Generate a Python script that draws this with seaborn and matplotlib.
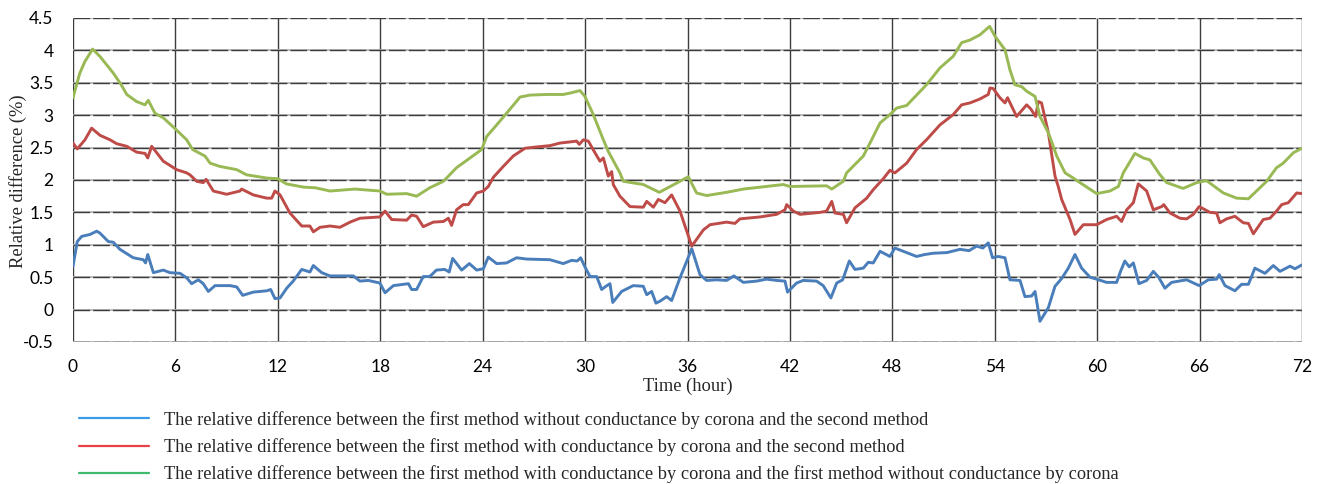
import numpy as np
import pandas as pd
import matplotlib
matplotlib.use("Agg")
import matplotlib.pyplot as plt
from matplotlib.lines import Line2D
import seaborn as sns

# ---- data: time (hour) and relative difference (%) for each series ----
t_blue = [0.0, 0.25, 0.51, 1.0, 1.39, 1.58, 2.07, 2.36, 2.75, 3.53, 4.12, 4.25, 4.38, 4.71,
          5.29, 5.68, 6.27, 6.66, 6.95, 7.34, 7.63, 7.93, 8.32, 9.2, 9.59, 9.94, 10.56, 11.35,
          11.58, 11.83, 12.13, 12.52, 12.9, 13.4, 13.88, 14.08, 14.57, 15.06, 15.64, 16.42,
          16.81, 17.3, 17.98, 18.28, 18.77, 19.65, 19.84, 20.13, 20.52, 20.9, 21.29, 21.78,
          22.04, 22.24, 22.77, 23.22, 23.65, 24.04, 24.33, 24.82, 25.4, 25.99, 26.58, 27.94,
          28.72, 29.21, 29.54, 29.74, 29.99, 30.29, 30.68, 30.97, 31.22, 31.46, 31.62, 32.14,
          32.82, 33.41, 33.61, 33.9, 34.15, 34.39, 34.78, 35.07, 35.56, 36.25, 36.73, 37.12,
          37.71, 38.29, 38.72, 39.27, 40.05, 40.64, 41.22, 41.71, 41.86, 42.39, 42.78, 43.56,
          43.95, 44.4, 44.74, 45.09, 45.48, 45.81, 46.3, 46.59, 46.88, 47.28, 47.86, 48.15,
          48.84, 49.42, 49.9, 50.4, 51.2, 51.96, 52.5, 52.94, 53.3, 53.62, 53.87, 54.2, 54.6,
          54.89, 55.48, 55.77,
          56.16, 56.36, 56.65, 57.14, 57.53, 57.92, 58.31, 58.7, 59.09, 59.58, 59.97, 60.55,
          61.14, 61.37, 61.62, 61.88, 62.12, 62.45, 62.9, 63.29, 63.6, 63.97, 64.36, 65.24,
          65.98, 66.51, 67.0, 67.15, 67.49, 68.07, 68.46, 68.86, 69.24, 69.83, 70.32, 70.71,
          71.3, 71.59, 72.0]
v_blue = [0.67, 1.05, 1.13, 1.16, 1.21, 1.18, 1.05, 1.04, 0.93, 0.80, 0.77, 0.72, 0.85, 0.57,
          0.61, 0.57, 0.56, 0.49, 0.40, 0.46, 0.40, 0.28, 0.37, 0.37, 0.35, 0.22, 0.27, 0.29,
          0.31, 0.17, 0.18, 0.33, 0.44, 0.62, 0.58, 0.68, 0.57, 0.52, 0.52, 0.52,
          0.44, 0.45, 0.41, 0.26, 0.37, 0.40, 0.31, 0.31, 0.51, 0.51, 0.61, 0.62,
          0.58, 0.79, 0.61, 0.71, 0.61, 0.63, 0.81, 0.71, 0.72, 0.80, 0.78, 0.77,
          0.71, 0.76, 0.75, 0.80, 0.66, 0.51, 0.51, 0.31, 0.36, 0.40, 0.11, 0.28,
          0.37, 0.36, 0.23, 0.28, 0.10, 0.13, 0.20, 0.14, 0.49, 0.94, 0.54, 0.45,
          0.46, 0.45, 0.52, 0.42, 0.44, 0.47, 0.45, 0.44, 0.27, 0.41, 0.45, 0.44,
          0.37, 0.18, 0.41, 0.46, 0.75, 0.62, 0.64, 0.73, 0.72, 0.90, 0.82, 0.95,
          0.88, 0.82, 0.85, 0.87, 0.88, 0.93, 0.91, 0.98, 0.95, 1.03, 0.80, 0.82, 0.80,
          0.46, 0.45, 0.20,
          0.21, 0.28, -0.18, 0.03, 0.36, 0.48, 0.64, 0.85, 0.64, 0.50, 0.47, 0.42,
          0.42, 0.59, 0.75, 0.66, 0.72, 0.40, 0.45, 0.59, 0.50, 0.33, 0.42, 0.46,
          0.37, 0.46, 0.47, 0.54, 0.37, 0.29, 0.39, 0.39, 0.64, 0.56, 0.68, 0.59,
          0.67, 0.63, 0.69]

t_red = [0.0, 0.25, 0.7, 1.09, 1.58, 2.17, 2.56, 3.15, 3.73, 4.22, 4.38, 4.61, 5.29, 6.07,
         6.66, 6.85, 7.25, 7.63, 7.8, 8.22, 9.0, 9.78, 9.88, 10.56, 11.35, 11.64, 11.83, 12.13,
         12.71, 13.4, 13.88, 14.08, 14.47, 15.06, 15.64, 16.23, 16.81, 17.98, 18.28, 18.67,
         19.55, 19.84, 20.13, 20.52, 21.11, 21.7, 21.99, 22.18, 22.47, 22.86, 23.16, 23.65,
         24.04, 24.33, 24.62, 25.21, 25.79, 26.48, 27.16, 27.94, 28.53, 29.51, 29.66, 29.9,
         30.19, 30.58, 30.87, 31.07, 31.36, 31.56, 31.65, 32.04, 32.63, 33.41, 33.61, 34.0,
         34.29, 34.68, 35.07, 35.56, 36.25, 36.93, 37.32, 38.29, 38.78, 39.07, 40.25, 41.22,
         41.71, 41.81, 42.2, 42.59, 43.76, 44.15, 44.45, 44.64, 45.13, 45.32, 45.81, 46.5,
         46.88, 47.47, 47.86, 48.15, 48.84, 49.42, 50.0, 50.79, 51.57, 52.06, 52.55, 53.13,
         53.62, 53.72, 53.91, 54.3, 54.6, 54.75, 55.28, 55.87, 56.1, 56.4, 56.55, 56.74,
         57.14, 57.53, 57.72, 57.92, 58.41, 58.7, 59.19, 59.97, 60.55, 61.14, 61.43, 61.73,
         62.12, 62.41, 62.9, 63.29, 63.78, 63.9, 64.27, 64.85, 65.24, 65.63, 65.98, 66.61,
         67.0, 67.19, 67.58, 68.07, 68.56, 68.86, 69.15, 69.73, 70.12, 70.51, 70.81, 71.2,
         71.69, 72.0]
v_red = [2.57, 2.48, 2.62, 2.80, 2.69, 2.62, 2.56, 2.52, 2.43, 2.41, 2.34, 2.52, 2.29, 2.16,
         2.11, 2.08, 1.98, 1.96, 2.01, 1.83, 1.78, 1.83, 1.86, 1.77, 1.72, 1.72, 1.83, 1.77,
         1.49, 1.29, 1.29, 1.20, 1.27, 1.29, 1.27, 1.35, 1.41, 1.43, 1.52, 1.39,
         1.38, 1.46, 1.44, 1.28, 1.35, 1.36, 1.41, 1.30, 1.54, 1.62, 1.62, 1.80,
         1.83, 1.90, 2.04, 2.21, 2.37, 2.49, 2.51, 2.53, 2.57, 2.60, 2.55, 2.62,
         2.60, 2.42, 2.29, 2.34, 2.06, 2.13, 1.93, 1.75, 1.59, 1.58, 1.67, 1.58,
         1.70, 1.65, 1.77, 1.52, 0.98, 1.23, 1.31, 1.35, 1.33, 1.40, 1.43, 1.47,
         1.54, 1.62, 1.52, 1.47, 1.50, 1.52, 1.67, 1.49, 1.47, 1.34, 1.57, 1.72,
         1.85, 2.02, 2.15, 2.11, 2.26, 2.47, 2.62, 2.85, 3.01, 3.16, 3.19, 3.25,
         3.32, 3.42, 3.41, 3.27, 3.19, 3.27, 2.98, 3.16, 3.10, 2.98, 3.21, 3.19,
         2.73, 2.06, 1.90, 1.70, 1.39, 1.16, 1.31, 1.31, 1.39, 1.44, 1.36, 1.54,
         1.65, 1.94, 1.83, 1.54, 1.59, 1.62, 1.49, 1.41, 1.40, 1.47, 1.59, 1.50,
         1.49, 1.34, 1.40, 1.44, 1.34, 1.33, 1.17, 1.39, 1.41, 1.52, 1.62, 1.65,
         1.80, 1.79]

t_green = [0.0, 0.4, 0.7, 1.15, 1.6, 2.36, 2.8, 3.15, 3.73, 4.22, 4.41, 4.8, 5.29, 6.03,
           6.66, 7.01, 7.73, 8.03, 8.6, 9.59, 10.17, 11.35, 12.0, 12.5, 13.5, 14.2, 15.06,
           16.5, 17.98, 18.38, 19.55, 20.13, 20.9, 21.7, 22.47, 23.26, 23.94, 24.23, 24.82,
           25.4, 26.19, 26.77, 27.75, 28.72, 29.1, 29.7, 29.99, 30.48, 31.07, 31.36, 32.04,
           32.24, 33.41, 34.35, 35.56, 36.05, 36.53, 37.12, 38.29, 39.27, 41.61, 42.0, 44.15,
           44.45, 45.13, 45.32, 46.3, 46.69, 47.28, 47.86, 48.25, 48.84, 50.0, 50.79, 51.57,
           52.06, 52.55, 53.13, 53.7, 54.01, 54.6, 54.89, 55.18, 55.58, 55.87, 56.36, 56.65,
           57.14, 57.63, 58.12, 58.6, 58.99, 59.97, 60.75, 61.24, 61.53, 62.21, 62.7, 63.09,
           63.68, 64.07, 65.04, 65.83, 66.41, 67.39, 68.17, 68.86, 69.93, 70.51, 70.9, 71.49,
           72.0]
v_green = [3.27, 3.65, 3.83, 4.02, 3.90, 3.65, 3.48, 3.32, 3.21, 3.16, 3.23, 3.03, 2.96, 2.78,
           2.62, 2.47, 2.37, 2.26, 2.21, 2.16, 2.08, 2.03, 2.02, 1.94, 1.89, 1.88, 1.83,
           1.86, 1.83, 1.78, 1.79, 1.75, 1.88, 1.98, 2.19, 2.34, 2.47, 2.67, 2.85,
           3.03, 3.28, 3.31, 3.32, 3.32, 3.34, 3.38, 3.29, 3.01, 2.62, 2.44, 2.11,
           1.98, 1.93, 1.81, 1.98, 2.05, 1.80, 1.76, 1.81, 1.86, 1.93, 1.90, 1.91,
           1.86, 1.98, 2.11, 2.37, 2.57, 2.88, 3.01, 3.11, 3.15, 3.47, 3.73, 3.91,
           4.12, 4.16, 4.24, 4.37, 4.22, 4.01, 3.70, 3.47, 3.44, 3.37, 3.29, 2.98,
           2.73, 2.37, 2.11, 2.03, 1.96, 1.79, 1.83, 1.90, 2.11, 2.41, 2.34, 2.31,
           2.08, 1.96, 1.87, 1.96, 1.99, 1.80, 1.72, 1.71, 1.98, 2.19, 2.26, 2.42,
           2.49]

labels = [
    "The relative difference between the first method without conductance by corona and the second method",
    "The relative difference between the first method with conductance by corona and the second method",
    "The relative difference between the first method with conductance by corona and the first method without conductance by corona",
]
x_ticks = [0, 6, 12, 18, 24, 30, 36, 42, 48, 54, 60, 66, 72]
y_ticks = [-0.5, 0, 0.5, 1, 1.5, 2, 2.5, 3, 3.5, 4, 4.5]
y_tick_labels = ["-0.5", "0", "0.5", "1", "1.5", "2", "2.5", "3", "3.5", "4", "4.5"]

line_colors = ["#4a7ebb", "#be4b48", "#98b954"]
legend_colors = ["#3d9ae8", "#e8404a", "#3dba6c"]

df = pd.concat([
    pd.DataFrame({"t": t_blue, "v": v_blue, "s": labels[0]}),
    pd.DataFrame({"t": t_red, "v": v_red, "s": labels[1]}),
    pd.DataFrame({"t": t_green, "v": v_green, "s": labels[2]}),
], ignore_index=True)

sns.set_style("white")
plt.rcParams["font.family"] = ["Liberation Serif", "DejaVu Serif"]

fig = plt.figure(figsize=(13.2, 4.84), dpi=100)
ax = fig.add_axes([73 / 1320, 1 - 342 / 484, (1302 - 73) / 1320, (342 - 18) / 484])

# grid: dark vertical lines, textured dark/light horizontal lines
ax.set_axisbelow(True)
ax.grid(axis="x", color="#3c3c3c", lw=1.0)
ax.grid(axis="y", color="#b8b8b8", lw=1.3)
ax.hlines(y_ticks, x_ticks[0], x_ticks[-1], colors="#3c3c3c", lw=1.0,
          linestyles=[(0, (12, 2.2))], zorder=0.6)

sns.lineplot(data=df, x="t", y="v", hue="s", palette=line_colors, sort=False,
             estimator=None, lw=2.1, legend=False, ax=ax, zorder=3)

ax.set_xlim(x_ticks[0], x_ticks[-1])
ax.set_ylim(y_ticks[0], y_ticks[-1])
ax.set_xticks(x_ticks)
ax.set_yticks(y_ticks)
ax.set_yticklabels(y_tick_labels)
for spine in ax.spines.values():
    spine.set_visible(False)
ax.tick_params(axis="both", length=0, labelsize=12.5, colors="#000000")
ax.tick_params(axis="y", pad=14)
ax.tick_params(axis="x", pad=12)
for lab in ax.get_xticklabels() + ax.get_yticklabels():
    lab.set_family(["Lato", "DejaVu Sans"])

ax.set_xlabel("Time (hour)", fontsize=13.3, labelpad=2)
ax.set_ylabel("Relative difference (%)", fontsize=13.3, va="center")
ax.yaxis.set_label_coords(-0.0445, 0.495)

handles = [Line2D([], [], color=c, lw=1.6) for c in legend_colors]
fig.legend(handles, labels, loc="upper left",
           bbox_to_anchor=(79 / 1320, 1 - 411 / 484), frameon=False,
           fontsize=13.2, handlelength=3.8, handletextpad=0.85, labelspacing=0.5,
           borderpad=0, borderaxespad=0)

fig.savefig("out.png", dpi=100, facecolor="white")
